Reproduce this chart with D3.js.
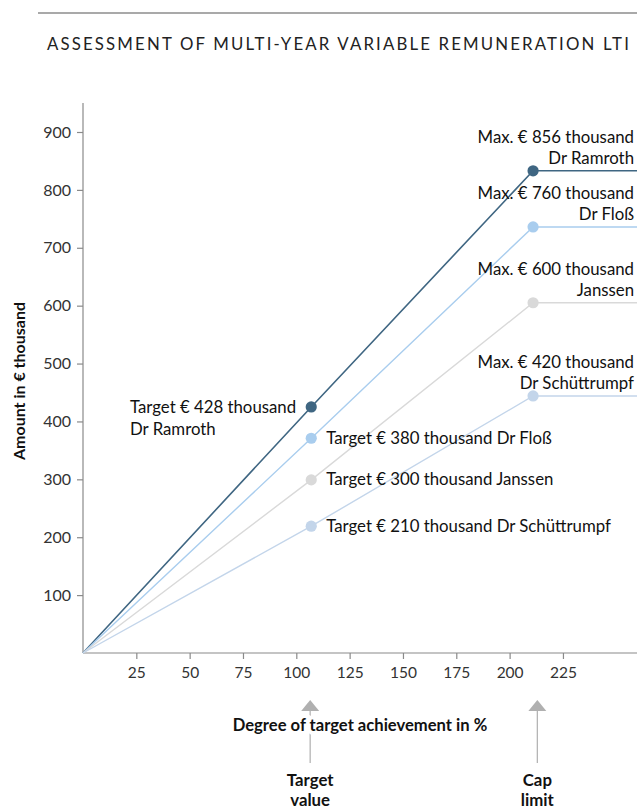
<!DOCTYPE html>
<html>
<head>
<meta charset="utf-8">
<script src="https://cdn.jsdelivr.net/npm/d3@7"></script>
<style>
  html, body { margin: 0; padding: 0; background: #fff; }
  svg { display: block; font-family: Lato, "Open Sans", sans-serif; }
</style>
</head>
<body>
<svg id="chart" width="637" height="810"></svg>
<script>
// ---- data ----
const names = ["Dr Ramroth", "Dr Floß", "Janssen", "Dr Schüttrumpf"];
const targetLabels = ["Target € 428 thousand", "Target € 380 thousand", "Target € 300 thousand", "Target € 210 thousand"];
const maxLabels = ["Max. € 856 thousand", "Max. € 760 thousand", "Max. € 600 thousand", "Max. € 420 thousand"];
const xPoints = [0, 107, 211, 260];           // degree of achievement positions (as drawn)
const targetValues = [425, 371, 299, 219];    // plotted amount at target point
const capValues = [833, 736, 605, 444];       // plotted amount at cap point
const colors = ["#3f6682", "#a9cdee", "#d9d9d9", "#c3d5ea"];
const yTicks = [100, 200, 300, 400, 500, 600, 700, 800, 900];
const xTicks = [25, 50, 75, 100, 125, 150, 175, 200, 225];
const markers = [{x: 106.5, lines: ["Target", "value"]}, {x: 213, lines: ["Cap", "limit"]}];

const svg = d3.select("#chart");
const x = d3.scaleLinear().domain([0, 260]).range([83, 637.6]);
const y = d3.scaleLinear().domain([0, 900]).range([653, 132]);
const axisColor = "#8a8a8a";
const FS = 16.8;

// top rule and title
svg.append("line").attr("x1", 38).attr("x2", 637).attr("y1", 13).attr("y2", 13)
  .attr("stroke", "#8c8c8c").attr("stroke-width", 1.3);
svg.append("text").attr("x", 47).attr("y", 50)
  .attr("font-size", 16.8).attr("font-weight", 400).attr("letter-spacing", 2.15)
  .attr("fill", "#222").text("ASSESSMENT OF MULTI-YEAR VARIABLE REMUNERATION LTI");

// axes
const yAxis = svg.append("g").attr("transform", `translate(${x(0)},0)`)
  .call(d3.axisLeft(y).tickValues(yTicks).tickSize(6).tickPadding(6).tickFormat(d3.format("d")));
yAxis.select(".domain").attr("d", `M0,${y(950)}V${y(0)}`);
const xAxis = svg.append("g").attr("transform", `translate(0,${y(0)})`)
  .call(d3.axisBottom(x).tickValues(xTicks).tickSize(6).tickPadding(8).tickFormat(d3.format("d")));
xAxis.select(".domain").attr("d", `M${x(0)},0H637`);
[yAxis, xAxis].forEach(g => {
  g.selectAll(".domain, line").attr("stroke", axisColor).attr("stroke-width", 1.2);
  g.selectAll("text").attr("font-family", "Lato, sans-serif").attr("font-size", 16).attr("fill", "#333");
});
xAxis.selectAll("text").attr("font-size", 15.5);

// axis titles
svg.append("text").attr("transform", `translate(25,381) rotate(-90)`)
  .attr("text-anchor", "middle").attr("font-size", 16).attr("font-weight", 700).attr("fill", "#111")
  .text("Amount in € thousand");

// lines
const line = d3.line().x(d => x(d[0])).y(d => y(d[1]));
names.forEach((n, i) => {
  const pts = [[xPoints[0], 0], [xPoints[1], targetValues[i]], [xPoints[2], capValues[i]], [xPoints[3], capValues[i]]];
  svg.append("path").datum(pts).attr("d", line).attr("fill", "none")
    .attr("stroke", colors[i]).attr("stroke-width", i === 0 ? 1.6 : 1.4);
});
// dots drawn on top
names.forEach((n, i) => {
  svg.append("circle").attr("cx", x(xPoints[1])).attr("cy", y(targetValues[i])).attr("r", 5.6).attr("fill", colors[i]);
  svg.append("circle").attr("cx", x(xPoints[2])).attr("cy", y(capValues[i])).attr("r", 5.6).attr("fill", colors[i]);
});

// target labels
const lab = svg.append("g").attr("font-size", FS).attr("fill", "#111");
lab.append("text").attr("x", 130).attr("y", y(targetValues[0]) + 6).text(targetLabels[0]);
lab.append("text").attr("x", 130).attr("y", y(targetValues[0]) + 28).text(names[0]);
for (let i = 1; i < 4; i++) {
  lab.append("text").attr("x", x(xPoints[1]) + 15).attr("y", y(targetValues[i]) + 5.5)
    .text(targetLabels[i] + " " + names[i]);
}
// max labels
maxLabels.forEach((m, i) => {
  const cy = y(capValues[i]);
  lab.append("text").attr("x", 634).attr("y", cy - 28).attr("text-anchor", "end").text(m);
  lab.append("text").attr("x", 634).attr("y", cy - 7).attr("text-anchor", "end").text(names[i]);
});

// bottom markers
markers.forEach(m => {
  const cx = x(m.x);
  svg.append("line").attr("x1", cx).attr("x2", cx).attr("y1", 706).attr("y2", 763)
    .attr("stroke", "#b5b5b5").attr("stroke-width", 1.3);
  svg.append("path").attr("d", `M${cx - 9},711L${cx},700L${cx + 9},711Z`).attr("fill", "#b0b0b0");
  m.lines.forEach((t, k) => {
    svg.append("text").attr("x", cx).attr("y", 786 + k * 20).attr("text-anchor", "middle")
      .attr("font-size", FS).attr("font-weight", 700).attr("fill", "#111").text(t);
  });
});
svg.append("text").attr("x", 360).attr("y", 731).attr("text-anchor", "middle")
  .attr("font-size", 16.6).attr("font-weight", 700).attr("fill", "#111")
  .attr("stroke", "#fff").attr("stroke-width", 8).attr("paint-order", "stroke")
  .text("Degree of target achievement in %");
</script>
</body>
</html>
